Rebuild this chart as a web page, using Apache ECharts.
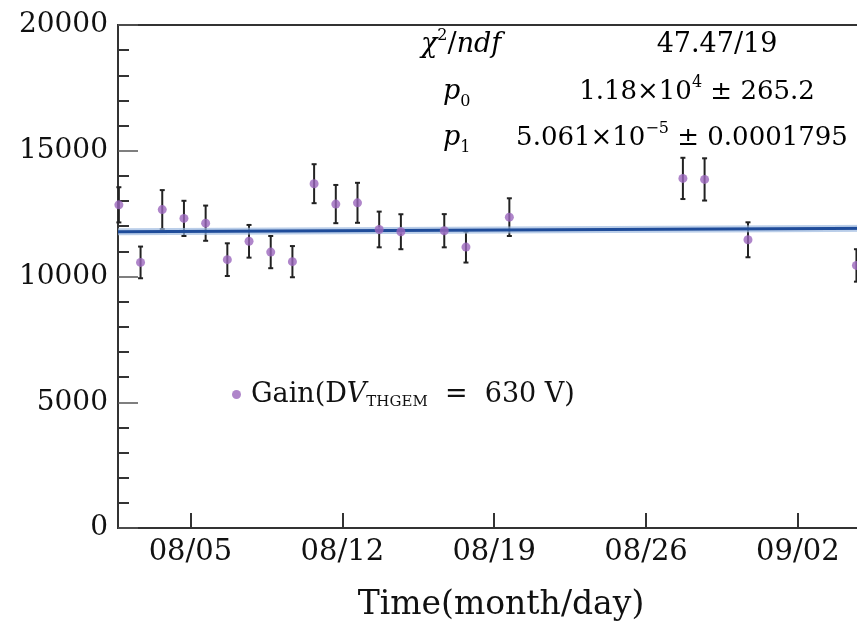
<!DOCTYPE html>
<html>
<head>
<meta charset="utf-8">
<script src="https://cdn.jsdelivr.net/npm/echarts@6/dist/echarts.min.js"></script>
<style>
html,body{margin:0;padding:0;background:#fff;overflow:hidden;width:857px;height:634px;}
#chart{width:884px;height:634px;}
</style>
</head>
<body>
<div id="chart"></div>
<script>
// ---- data (day of August; 32 = Sep 1) ----
const days = [1.7, 2.7, 3.7, 4.7, 5.7, 6.7, 7.7, 8.7, 9.7, 10.7, 11.7, 12.7, 13.7, 14.7, 16.7, 17.7, 19.7, 27.7, 28.7, 30.7, 35.7];
const gain = [12850, 10560, 12660, 12310, 12120, 10670, 11400, 10970, 10590, 13690, 12880, 12930, 11870, 11780, 11820, 11170, 12360, 13900, 13860, 11460, 10440];
const gainErr = [700, 630, 775, 700, 700, 650, 650, 640, 620, 775, 760, 795, 710, 695, 660, 615, 750, 820, 840, 695, 645];
const fitDays = [1.66, 36.97];
const fitValues = [11780, 11921];
const tickDays = [5, 12, 19, 26, 33];
const tickLabels = ['08/05', '08/12', '08/19', '08/26', '09/02'];
const yTicks = [0, 5000, 10000, 15000, 20000];

const SERIF = 'DejaVu Serif';
const pts = days.map((d, i) => [d, gain[i]]);
const bars = days.map((d, i) => [d, gain[i] - gainErr[i], gain[i] + gainErr[i]]);
const fit = fitDays.map((d, i) => [d, fitValues[i]]);

const chart = echarts.init(document.getElementById('chart'), null, {renderer: 'canvas'});

function mkRich(fs) {
  const base = {fontFamily: SERIF, color: '#111', fontSize: fs, lineHeight: fs + 8};
  return {
    t: Object.assign({}, base),
    i: Object.assign({}, base, {fontStyle: 'italic'}),
    sup: {fontFamily: SERIF, color: '#111', fontSize: Math.round(fs * 0.6), lineHeight: Math.round(fs * 0.75), verticalAlign: 'top'},
    sub: {fontFamily: SERIF, color: '#111', fontSize: Math.round(fs * 0.6), lineHeight: Math.round(fs * 0.75), verticalAlign: 'bottom'}
  };
}

function txt(x, y, text, align, fs) {
  return {type: 'text', x: x, y: y, silent: true,
    style: {text: text, rich: mkRich(fs), align: align, verticalAlign: 'middle'}};
}

chart.setOption({
  animation: false,
  backgroundColor: '#fff',
  grid: {left: 118, top: 25, right: 0, bottom: 106, show: true, borderColor: '#333', borderWidth: 2, backgroundColor: 'transparent'},
  xAxis: {
    type: 'value', min: 1.66, max: 36.97,
    axisLine: {show: true, lineStyle: {color: '#333', width: 2}},
    splitLine: {show: false},
    axisTick: {show: true, inside: true, length: 15, customValues: tickDays, lineStyle: {color: '#333', width: 2}},
    axisLabel: {show: true, customValues: tickDays, margin: 10, fontFamily: SERIF, fontSize: 29, color: '#111',
      formatter: function (v) { const k = tickDays.indexOf(Math.round(v)); return k >= 0 ? tickLabels[k] : ''; }},
    name: 'Time(month/day)', nameLocation: 'middle', nameGap: 61,
    nameTextStyle: {fontFamily: SERIF, fontSize: 33, color: '#111'}
  },
  yAxis: {
    type: 'value', min: yTicks[0], max: yTicks[yTicks.length - 1], interval: 5000,
    axisLine: {show: true, lineStyle: {color: '#333', width: 2}},
    splitLine: {show: false},
    axisTick: {show: true, inside: true, length: 20, lineStyle: {color: '#555', width: 1.5}},
    minorTick: {show: true, splitNumber: 5, length: 11, lineStyle: {color: '#333', width: 2}},
    axisLabel: {margin: 10, fontFamily: SERIF, fontSize: 28, color: '#111',
      formatter: function (v) { return String(v); }}
  },
  legend: {
    show: true, left: 227, top: 376, itemWidth: 9, itemHeight: 9, selectedMode: false,
    data: [{name: 'gain', icon: 'circle'}],
    formatter: function () { return '{t|Gain(D}{i|V}{sub|THGEM}{t|  =  630 V)}'; },
    textStyle: {padding: [0, 0, 0, 5], rich: {
      t: {fontFamily: SERIF, color: '#111', fontSize: 27, lineHeight: 30},
      i: {fontFamily: SERIF, color: '#111', fontSize: 27, lineHeight: 30, fontStyle: 'italic'},
      sub: {fontFamily: SERIF, color: '#111', fontSize: 15, lineHeight: 18, verticalAlign: 'bottom'}
    }}
  },
  graphic: [
    txt(421, 45, '{i|χ}{sup|2}{t|/}{i|ndf}', 'left', 27),
    txt(717, 45, '{t|47.47/19}', 'center', 27),
    txt(443, 92, '{i|p}{sub|0}', 'left', 27),
    txt(697, 92, '{t|1.18×10}{sup|4}{t| ± 265.2}', 'center', 26),
    txt(443, 138, '{i|p}{sub|1}', 'left', 27),
    txt(682, 138, '{t|5.061×10}{sup|−5}{t| ± 0.0001795}', 'center', 26)
  ],
  series: [
    {
      name: 'err', type: 'custom', data: bars, z: 2, silent: true,
      renderItem: function (params, api) {
        const x = api.value(0);
        const lo = api.coord([x, api.value(1)]);
        const hi = api.coord([x, api.value(2)]);
        const c = 2.5;
        const st = {stroke: '#222', lineWidth: 2};
        return {type: 'group', children: [
          {type: 'line', shape: {x1: lo[0], y1: lo[1], x2: hi[0], y2: hi[1]}, style: st},
          {type: 'line', shape: {x1: lo[0] - c, y1: lo[1], x2: lo[0] + c, y2: lo[1]}, style: st},
          {type: 'line', shape: {x1: hi[0] - c, y1: hi[1], x2: hi[0] + c, y2: hi[1]}, style: st}
        ]};
      }
    },
    {name: 'fitHalo', type: 'line', data: fit, symbol: 'none', z: 3, silent: true,
      lineStyle: {color: '#9db9e0', width: 7, opacity: 0.7}},
    {name: 'fit', type: 'line', data: fit, symbol: 'none', z: 4, silent: true,
      lineStyle: {color: '#1f4c9a', width: 3}},
    {name: 'gain', type: 'scatter', data: pts, z: 5, symbol: 'circle', symbolSize: 9,
      itemStyle: {color: '#9b67bd'}}
  ]
});
</script>
</body>
</html>
